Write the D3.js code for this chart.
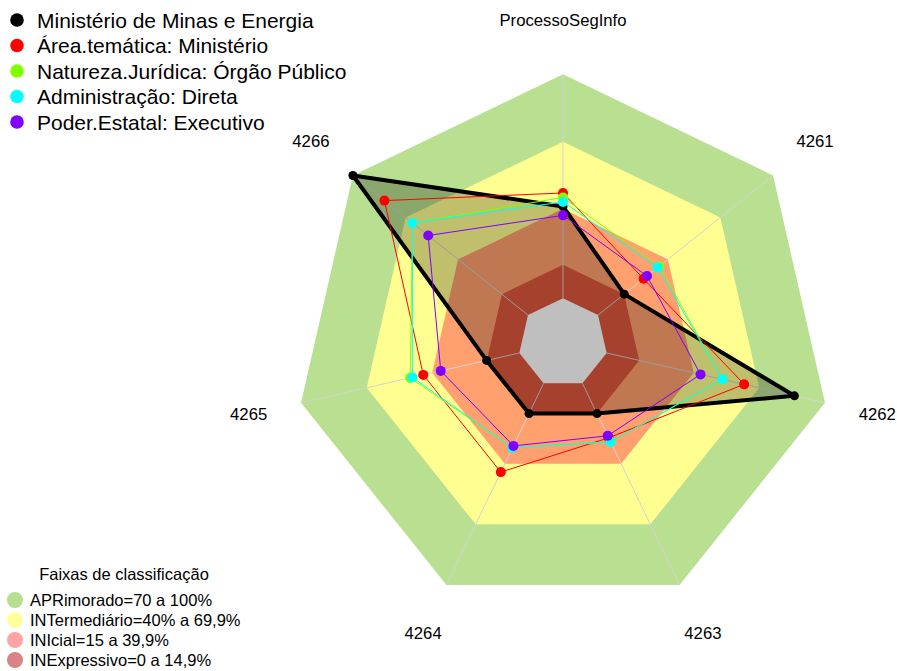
<!DOCTYPE html>
<html>
<head>
<meta charset="utf-8">
<script src="https://cdn.jsdelivr.net/npm/d3@7"></script>
<style>
  body { margin: 0; background: #ffffff; }
  svg { display: block; font-family: "Liberation Sans", Arial, sans-serif; }
</style>
</head>
<body>
<script>
// Radar axes, clockwise from the top
const axes = ["ProcessoSegInfo", "4261", "4262", "4263", "4264", "4265", "4266"];

// Series (percent scores per axis)
const seriesNames = [
  "Ministério de Minas e Energia",
  "Área.temática: Ministério",
  "Natureza.Jurídica: Órgão Público",
  "Administração: Direta",
  "Poder.Estatal: Executivo"
];
const seriesColors = ["#000000", "#ff0000", "#80ff00", "#00ffff", "#8000ff"];
const ministerioMinas = [41, 15, 86, 15, 15, 15, 100];
const areaTematica    = [47, 26, 63, 27, 44, 44, 82];
const naturezaJuridica = [45, 35, 53, 29, 32, 50, 66];
const administracao   = [43, 34, 53, 29, 32, 49, 66];
const poderEstatal    = [37, 28, 43, 26, 31, 36, 57];
const seriesValues = [ministerioMinas, areaTematica, naturezaJuridica, administracao, poderEstatal];

// Classification bands (upper limit of each band, in percent)
const bandNames = [
  "APRimorado=70 a 100%",
  "INTermediário=40% a 69,9%",
  "INIcial=15 a 39,9%",
  "INExpressivo=0 a 14,9%"
];
const bandUpper = [100, 69.9, 39.9, 14.9];
const bandFill = ["#b8e090", "#ffff91", "#ffa06e", "#dc573c"];
const bandLegendFill = ["#b5de8e", "#ffff99", "#ffa3a3", "#d98383"];

const W = 897, H = 671;
const cx = 563, cy = 343, R = 268.7;

const svg = d3.select("body").append("svg")
  .attr("width", W).attr("height", H);
svg.append("rect").attr("width", W).attr("height", H).attr("fill", "#ffffff");

const g = svg.append("g").attr("transform", `translate(${cx},${cy})`);

// Value -> radius; the centre keeps an empty hole of one segment
const rScale = d3.scaleLinear().domain([0, 100]).range([R / 6, R]);
const angle = d3.scaleLinear().domain([0, axes.length]).range([0, 2 * Math.PI]);

const pt = (i, v) => {
  const a = angle(i), r = rScale(v);
  return [r * Math.sin(a), -r * Math.cos(a)];
};
const ringPoints = v => axes.map((_, i) => pt(i, v));
const closedLine = d3.line().curve(d3.curveLinearClosed);

// Background bands, outermost first
bandUpper.forEach((u, k) => {
  g.append("path").attr("d", closedLine(ringPoints(u))).attr("fill", bandFill[k]);
});
g.append("path").attr("d", closedLine(ringPoints(0))).attr("fill", "#ffffff");

// Axis spokes
axes.forEach((_, i) => {
  const [x0, y0] = pt(i, 0), [x1, y1] = pt(i, 100);
  g.append("line").attr("x1", x0).attr("y1", y0).attr("x2", x1).attr("y2", y1)
    .attr("stroke", "#d2d2d2").attr("stroke-width", 1);
});

// Axis labels
axes.forEach((name, i) => {
  const a = angle(i), r = R * 1.2;
  g.append("text")
    .attr("x", r * Math.sin(a)).attr("y", -r * Math.cos(a))
    .attr("text-anchor", "middle").attr("dominant-baseline", "central")
    .attr("font-size", 16.7).attr("fill", "#000").text(name);
});

// Series polygons and points
seriesValues.forEach((vals, s) => {
  const pts = vals.map((v, i) => pt(i, v));
  const main = s === 0;
  g.append("path").attr("d", closedLine(pts))
    .attr("fill", main ? "rgba(0,0,0,0.25)" : "none")
    .attr("stroke", seriesColors[s])
    .attr("stroke-width", main ? 4 : 1)
    .attr("stroke-linejoin", "round");
  g.selectAll(null).data(pts).enter().append("circle")
    .attr("cx", d => d[0]).attr("cy", d => d[1])
    .attr("r", main ? 4.5 : 5)
    .attr("fill", seriesColors[s]);
});

// Series legend (top left)
const leg = svg.append("g");
seriesNames.forEach((name, s) => {
  const y = 20 + s * 25.5;
  leg.append("circle").attr("cx", 17).attr("cy", y).attr("r", 6.8).attr("fill", seriesColors[s]);
  leg.append("text").attr("x", 37).attr("y", y).attr("dominant-baseline", "central")
    .attr("font-size", 21).attr("fill", "#000").text(name);
});

// Band legend (bottom left)
const bl = svg.append("g");
bl.append("text").attr("x", 124).attr("y", 574).attr("text-anchor", "middle")
  .attr("dominant-baseline", "central").attr("font-size", 16.5).text("Faixas de classificação");
bandNames.forEach((name, k) => {
  const y = 600 + k * 20;
  bl.append("circle").attr("cx", 15).attr("cy", y).attr("r", 8).attr("fill", bandLegendFill[k]);
  bl.append("text").attr("x", 30).attr("y", y).attr("dominant-baseline", "central")
    .attr("font-size", 16.5).text(name);
});
</script>
</body>
</html>
